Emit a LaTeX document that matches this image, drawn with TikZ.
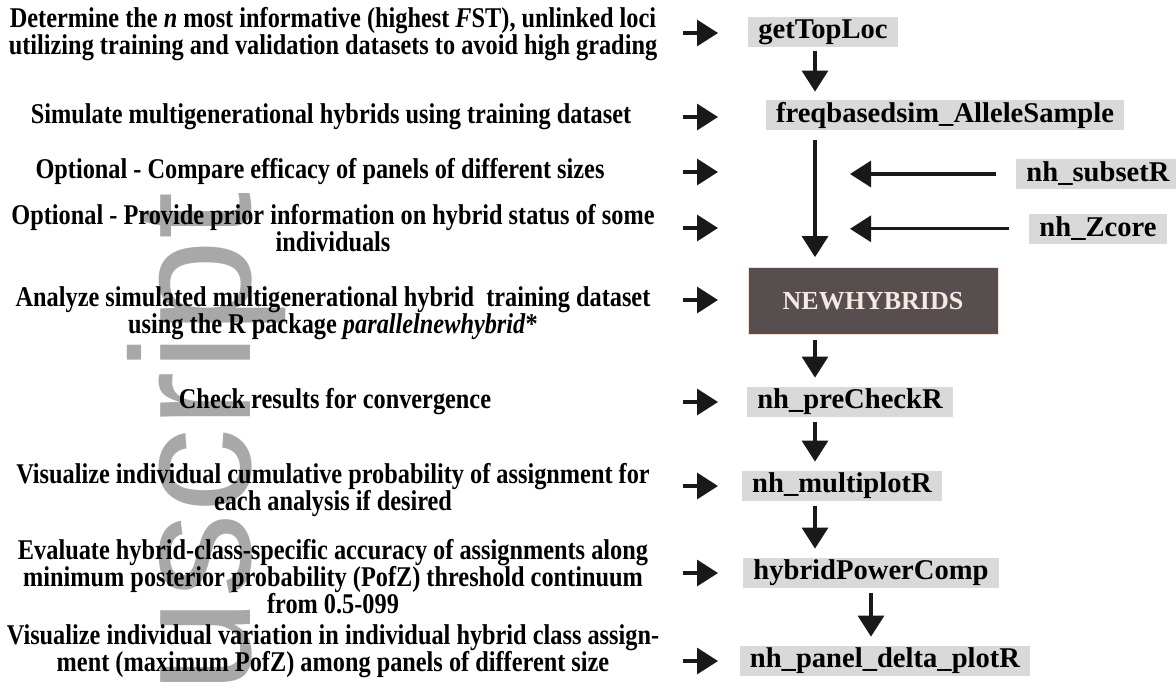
\documentclass[tikz,border=0pt]{standalone}
\usepackage{fontspec}
\setmainfont{Liberation Serif}
\newfontfamily\descfont{Liberation Serif}[FakeStretch=0.85]
\newfontfamily\markfont{Liberation Sans}
\usepackage{xcolor}
\usetikzlibrary{positioning}
\usetikzlibrary{arrows.meta}
\definecolor{boxgray}{HTML}{D9D9D9}
\definecolor{coregray}{HTML}{574E50}
\definecolor{coretext}{HTML}{F8E8E2}
\definecolor{coreline}{HTML}{F5E0D8}
\definecolor{markgray}{HTML}{A8A8A8}
\tikzstyle{task}=[align=center, inner sep=0pt, font=\descfont\bfseries\fontsize{14.3pt}{13.5pt}\selectfont]
\tikzstyle{func}=[fill=boxgray, inner xsep=5pt, inner ysep=0pt, minimum height=15pt, font=\bfseries\fontsize{14.3pt}{16pt}\selectfont]
\tikzstyle{core}=[fill=coregray, draw=coreline, line width=0.4pt, text=coretext, minimum width=125pt, minimum height=33.5pt, font=\bfseries\fontsize{13pt}{15pt}\selectfont]
\tikzstyle{flow}=[-{Triangle[width=13pt,length=10.5pt]}, line width=1.6pt, black!90]

\begin{document}
\begin{tikzpicture}[x=0.5pt, y=-0.5pt, node distance=12pt]
    \useasboundingbox (0,0) rectangle (1176,687);
    \begin{scope}
      \clip (0,0) rectangle (1176,687);
      \node[rotate=90, anchor=base east, inner sep=0pt, text=markgray, font=\markfont\fontsize{85pt}{85pt}\selectfont] (mark) at (250,192) {uscript};
    \end{scope}

    % steps
    \node[task] (t1) at (333,34)  {Determine the \textit{n} most informative (highest \textit{F}ST), unlinked loci\\utilizing training and validation datasets to avoid high grading};
    \node[task] (t2) at (331,117) {Simulate multigenerational hybrids using training dataset};
    \node[task] (t3) at (320,172) {Optional - Compare efficacy of panels of different sizes};
    \node[task] (t4) at (333,228) {Optional - Provide prior information on hybrid status of some\\individuals};
    \node[task] (t5) at (333,313) {Analyze simulated multigenerational hybrid\ \ training dataset\\using the R package \textit{parallelnewhybrid}*};
    \node[task] (t6) at (335,402) {Check results for convergence};
    \node[task] (t7) at (333,490) {Visualize individual cumulative probability of assignment for\\each analysis if desired};
    \node[task] (t8) at (333,577) {Evaluate hybrid-class-specific accuracy of assignments along\\minimum posterior probability (PofZ) threshold continuum\\from 0.5-099};
    \node[task] (t9) at (333,651) {Visualize individual variation in individual hybrid class assign-\\ment (maximum PofZ) among panels of different size};

    % functions
    \node[func] (top)    at (823,32)  {getTopLoc};
    \node[func] (freq)   at (945,115) {freqbasedsim\_AlleleSample};
    \node[func] (subset) at (1098,174) {nh\_subsetR};
    \node[func, below=12pt of subset] (zcore) {nh\_Zcore};
    \node[core] (nhyb)   at (873,301) {NEWHYBRIDS};
    \node[func] (pre)    at (850,402) {nh\_preCheckR};
    \node[func] (multi)  at (842,486) {nh\_multiplotR};
    \node[func] (power)  at (871,573) {hybridPowerComp};
    \node[func] (delta)  at (885,661) {nh\_panel\_delta\_plotR};

    \foreach \y [count=\i] in {33,117,172,228,300,402,486,573,661} {
      \coordinate (in\i) at (683,\y);
      \coordinate (out\i) at (718,\y);
      \draw[flow] (in\i) -- (out\i);
    }

    \coordinate (col) at (815,0);
    \draw[flow, shorten <=2pt, shorten >=4pt] (col |- top.south) -- (col |- freq.north);
    \draw[flow, shorten <=5pt, shorten >=5pt] (col |- freq.south) -- (col |- nhyb.north);
    \draw[flow, shorten <=10pt] (subset.west) -- ([xshift=17.5pt]col |- subset.west);
    \draw[flow, shorten <=10pt] (zcore.west) -- ([xshift=17.5pt]col |- zcore.west);
    \draw[flow, shorten <=2.5pt, shorten >=4.5pt] (col |- nhyb.south) -- (col |- pre.north);
    \draw[flow, shorten <=2.5pt, shorten >=4.5pt] (col |- pre.south) -- (col |- multi.north);
    \draw[flow, shorten <=2.5pt, shorten >=4.5pt] (col |- multi.south) -- (col |- power.north);
    \draw[flow, shorten <=2.5pt, shorten >=4.5pt] (power.south) -- (power.south |- delta.north);
  \end{tikzpicture}
\end{document}
